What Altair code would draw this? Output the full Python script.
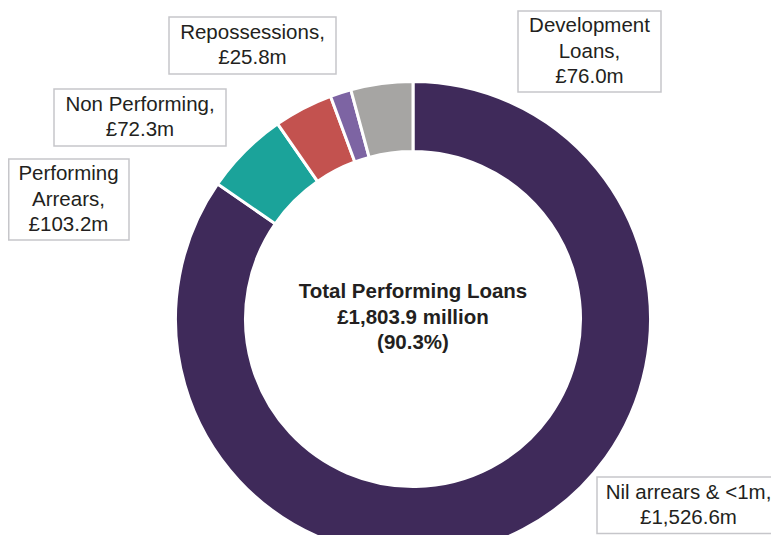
import altair as alt
import pandas as pd

# ---- data ----
categories = ["Nil arrears & <1m", "Performing Arrears", "Non Performing", "Repossessions", "Development Loans"]
values = [1526.6, 103.2, 72.3, 25.8, 76.0]
display_names = ["Nil arrears & <1m,", "Performing\nArrears,", "Non Performing,", "Repossessions,", "Development\nLoans,"]
center_lines = "Total Performing Loans\n£1,803.9 million\n(90.3%)"

# ---- styles / layout (pixel positions in chart coordinates) ----
colors = ["#3f2a5a", "#1ba39a", "#c3524f", "#7d64a3", "#a6a5a3"]
box_x = [589, 0.75, 46, 161, 510]
box_x2 = [775, 121, 218, 328, 653]
box_y = [469, 151, 81, 9, 3]
box_y2 = [525.5, 232, 138, 66, 84]
text_x = [680.5, 60.5, 132, 244.5, 581.5]
text_cy = [497.5, 191.5, 109.5, 37.5, 43.5]   # vertical centre of each text block
LH = 25.5
CX, CY = 405, 311
W, H = 763, 527

labels_txt = [f"{n}\n£{v:,.1f}m" for n, v in zip(display_names, values)]
# first-line position so that the text block is centred on text_cy
text_y = [c - (t.count("\n")) * LH / 2 for c, t in zip(text_cy, labels_txt)]

df = pd.DataFrame({
    "idx": list(range(len(categories))),
    "category": categories,
    "value": values,
    "label": labels_txt,
    "bx": box_x, "bx2": box_x2, "by": box_y, "by2": box_y2,
    "tx": text_x, "ty": text_y,
})

arcs = alt.Chart(df).mark_arc(
    outerRadius=237.5, innerRadius=167.5, stroke="white", strokeWidth=3
).encode(
    theta=alt.Theta("value:Q", stack=True),
    color=alt.Color("category:N", scale=alt.Scale(domain=categories, range=colors), legend=None),
    order=alt.Order("idx:Q"),
    x=alt.value(CX),
    y=alt.value(CY),
)

boxes = alt.Chart(df).mark_rect(fill="white", stroke="#c6c6ca", strokeWidth=1.5).encode(
    x=alt.X("bx:Q", scale=None, axis=None),
    x2="bx2:Q",
    y=alt.Y("by:Q", scale=None, axis=None),
    y2="by2:Q",
)

labels = alt.Chart(df).mark_text(
    lineBreak="\n", fontSize=20.5, lineHeight=LH, font="Liberation Sans",
    color="#231f20", align="center", baseline="middle"
).encode(
    x=alt.X("tx:Q", scale=None, axis=None),
    y=alt.Y("ty:Q", scale=None, axis=None),
    text="label:N",
)

center = alt.Chart(pd.DataFrame({"t": [center_lines]})).mark_text(
    lineBreak="\n", fontSize=20.5, lineHeight=LH, font="Liberation Sans",
    fontWeight="bold", color="#231f20", align="center", baseline="middle"
).encode(
    text="t:N",
    x=alt.value(CX),
    y=alt.value(CY - 1.5 - LH),
)

chart = alt.layer(arcs, boxes, labels, center).properties(
    width=W, height=H, padding=0, autosize=alt.AutoSizeParams(type="none")
).configure_view(stroke=None)

chart.save("out.html", embed_options={"renderer": "svg", "actions": False})
